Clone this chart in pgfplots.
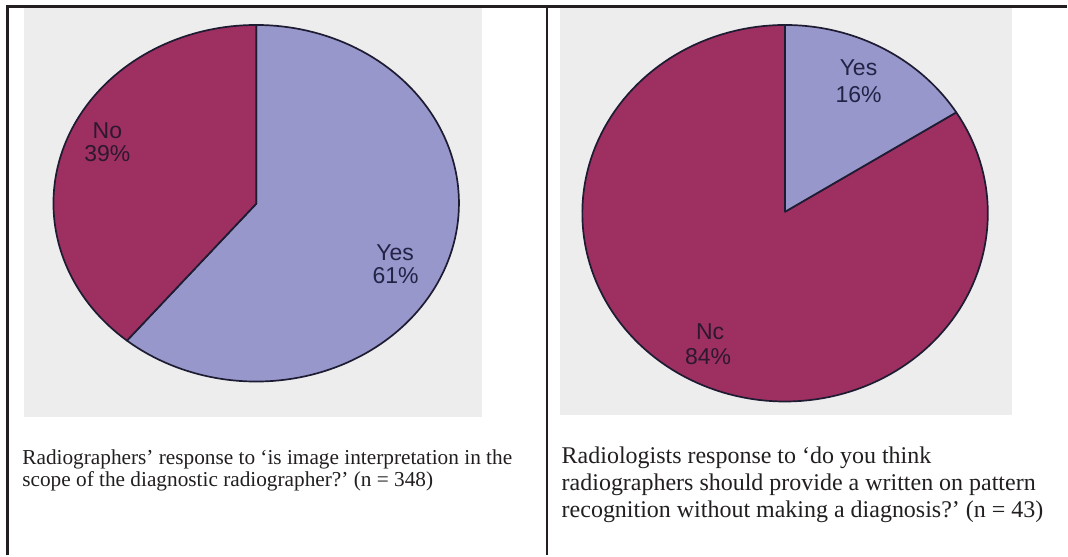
\documentclass[border=0pt]{standalone}
\usepackage{pgfplots}
\pgfplotsset{compat=1.18}
\usepackage{fontspec}
\setmainfont{Liberation Serif}
\newfontfamily\arial{Liberation Sans}
\definecolor{maroon}{RGB}{157,47,97}
\definecolor{lav}{RGB}{152,151,204}
\definecolor{bggrey}{RGB}{237,237,237}
\definecolor{framecol}{RGB}{35,31,32}
\definecolor{outl}{RGB}{30,28,50}
\definecolor{lblA}{RGB}{45,24,48}
\definecolor{lblB}{RGB}{35,35,70}
% data (percent)
\def\LeftYes{61}
\def\LeftNo{39}
\def\RightYes{16}
\def\RightNo{84}
\pgfmathsetmacro\LA{90-3.6*\LeftYes}
\pgfmathsetmacro\LB{90+3.6*\LeftNo}
\pgfmathsetmacro\RA{90-3.6*\RightYes}
\pgfmathsetmacro\RB{90+3.6*\RightNo}
\begin{document}
\frenchspacing
\begin{tikzpicture}
\begin{axis}[scale only axis, width=534pt, height=278pt,
  xmin=0, xmax=1068, ymin=0, ymax=556, y dir=reverse,
  hide axis, clip=false]
\fill[white] (axis cs:0,0) rectangle (axis cs:1068,556);
\fill[bggrey] (axis cs:24,8) rectangle (axis cs:483,417);
\fill[bggrey] (axis cs:561,8) rectangle (axis cs:1013,415);
\draw[framecol, line width=1.25pt] (axis cs:7.5,556) -- (axis cs:7.5,6.5) -- (axis cs:1068,6.5);
\draw[framecol, line width=1.25pt] (axis cs:547.5,6.5) -- (axis cs:547.5,556);
% left pie
\addplot[fill=lav, draw=outl, line width=0.85pt, domain=\LA:90, samples=120, variable=\t, line join=round]
  ({256.5+203*cos(\t)},{203.5-178.5*sin(\t)}) -- (axis cs:256.5,204) -- cycle;
\addplot[fill=maroon, draw=outl, line width=0.85pt, domain=90:\LB, samples=80, variable=\t, line join=round]
  ({256.5+203*cos(\t)},{203.5-178.5*sin(\t)}) -- (axis cs:256.5,204) -- cycle;
% right pie
\addplot[fill=maroon, draw=outl, line width=0.85pt, domain=90:\RB, samples=150, variable=\t, line join=round]
  ({786+203*cos(\t)},{213.5-188.5*sin(\t)}) -- (axis cs:786,212) -- cycle;
\addplot[fill=lav, draw=outl, line width=0.85pt, domain=\RA:90, samples=40, variable=\t, line join=round]
  ({786+203*cos(\t)},{213.5-188.5*sin(\t)}) -- (axis cs:786,212) -- cycle;
% labels
\begin{scope}[every node/.style={anchor=base, inner sep=0pt, font=\arial\fontsize{11.5}{13}\selectfont}]
\node[lblA] at (axis cs:107.5,139) {No};
\node[lblA] at (axis cs:107.5,161.5) {\LeftNo\%};
\node[lblB] at (axis cs:395.5,261) {Yes};
\node[lblB] at (axis cs:396,284) {\LeftYes\%};
\node[lblB] at (axis cs:859.5,76) {Yes};
\node[lblB] at (axis cs:859.5,103) {\RightYes\%};
\node[lblA] at (axis cs:711,340) {Nc};
\node[lblA] at (axis cs:709,365) {\RightNo\%};
\end{scope}
% captions
\begin{scope}[every node/.style={anchor=base west, inner sep=0pt, text=framecol}]
\node[font=\fontsize{10.65}{11}\selectfont] at (axis cs:22,465) {Radiographers’ response to ‘is image interpretation in the};
\node[font=\fontsize{10.65}{11}\selectfont] at (axis cs:22,487) {scope of the diagnostic radiographer?’ (n = 348)};
\node[font=\fontsize{12}{13.5}\selectfont] at (axis cs:562,464) {Radiologists response to ‘do you think};
\node[font=\fontsize{12}{13.5}\selectfont] at (axis cs:562,491) {radiographers should provide a written on pattern};
\node[font=\fontsize{12}{13.5}\selectfont] at (axis cs:562,518) {recognition without making a diagnosis?’ (n = 43)};
\end{scope}
\end{axis}
\end{tikzpicture}
\end{document}
